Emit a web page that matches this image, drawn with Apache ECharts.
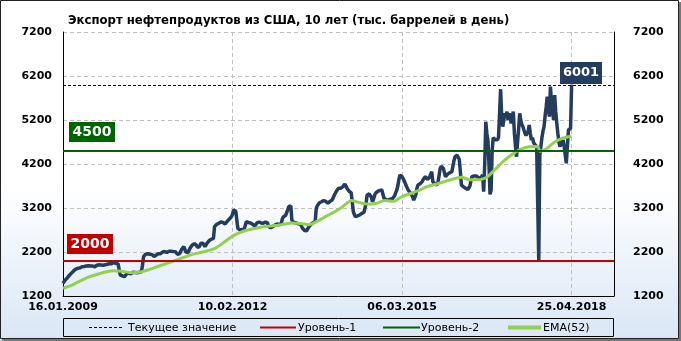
<!DOCTYPE html>
<html><head><meta charset="utf-8">
<script src="https://cdn.jsdelivr.net/npm/echarts@6/dist/echarts.min.js"></script>
<style>html,body{margin:0;padding:0;background:#fff}#c{width:681px;height:341px}</style>
</head><body><div id="c"></div>
<script>
const chartTitle = 'Экспорт нефтепродуктов из США, 10 лет (тыс. баррелей в день)';
const xTickLabels = ['16.01.2009', '10.02.2012', '06.03.2015', '25.04.2018'];
const weeksPerTick = 160;
const totalWeeks = 520;
const legendNames = ['Текущее значение', 'Уровень-1', 'Уровень-2', 'EMA(52)'];
const yMin = 1200, yMax = 7200, yStep = 1000;
const currentValue = 6001;
const level1 = 2000;
const level2 = 4500;

// weekly exports, one value per week from 16.01.2009
const exportsWeekly = [
1490,1520,1560,1590,1610,1640,1670,1700,1720,1750,
1770,1790,1810,1800,1830,1850,1840,1860,1866,1880,
1870,1890,1880,1900,1889,1870,1880,1860,1880,1870,
1866,1880,1900,1890,1910,1895,1905,1920,1900,1890,
1910,1930,1920,1927,1940,1950,1935,1943,1960,1950,
1940,1945,1930,1800,1677,1650,1660,1640,1640,1670,
1700,1690,1720,1716,1700,1730,1740,1720,1735,1750,
1730,1760,1740,1750,1752,1900,2093,2120,2150,2130,
2160,2170,2150,2130,2140,2120,2100,2109,2130,2150,
2160,2170,2160,2184,2200,2190,2210,2200,2190,2207,
2220,2207,2215,2200,2210,2220,2207,2180,2150,2132,
2160,2200,2260,2300,2320,2290,2200,2155,2190,2240,
2290,2330,2360,2380,2390,2395,2350,2300,2284,2330,
2400,2434,2400,2360,2320,2350,2400,2440,2460,2473,
2490,2500,2511,2775,2800,2830,2840,2852,2870,2880,
2890,2870,2850,2836,2870,2900,2927,2950,2980,3003,
3060,3155,3140,3130,3116,2738,2710,2700,2720,2710,
2730,2720,2738,2890,2880,2870,2880,2860,2852,2830,
2810,2791,2820,2860,2890,2880,2870,2860,2850,2852,
2870,2880,2890,2860,2780,2738,2750,2770,2780,2791,
2810,2820,2836,2830,2820,2814,2850,2950,3003,3020,
3030,3041,3150,3230,3268,3250,2927,2900,2870,2852,
2860,2850,2840,2845,2836,2790,2740,2700,2690,2680,
2685,2720,2770,2814,2830,2850,2870,2880,2890,3193,
3250,3290,3320,3330,3343,3360,3370,3382,3350,3320,
3307,3330,3350,3370,3382,3430,3490,3534,3580,3620,
3648,3660,3650,3648,3680,3720,3746,3700,3650,3609,
3580,3560,3545,3534,3116,3050,3003,3010,3020,3030,
3041,3060,3080,3090,3100,3116,3300,3496,3510,3520,
3534,3450,3343,3400,3480,3540,3570,3580,3590,3600,
3610,3609,3500,3420,3400,3390,3380,3382,3390,3400,
3410,3415,3420,3480,3550,3609,3700,3850,3950,3930,
3912,3880,3820,3761,3700,3650,3600,3560,3540,3534,
3450,3380,3343,3500,3650,3723,3740,3750,3761,3800,
3850,3890,3912,3880,3850,3837,3900,3970,4026,3798,
3770,3750,3740,3723,3800,3950,4102,4150,4178,4100,
4000,3912,3950,3970,3989,4000,4010,4026,4150,4280,
4366,4390,4400,4405,4300,4026,3723,3700,3680,3660,
3648,3630,3620,3609,3700,3820,3912,3920,3930,3925,
3928,3910,3890,3880,3876,3920,3950,3570,4200,5162,
4900,4746,4200,3510,3600,4500,4800,4780,4750,4780,
4750,4800,4821,5900,5300,5048,5200,5350,5300,5390,
5200,5352,5250,5124,5300,5390,4900,4600,4366,4700,
5000,5352,5200,5100,5050,4973,4900,4850,4821,4950,
5086,4900,4746,4800,4700,4650,4670,4600,4620,2018,
4405,4600,4800,4950,5048,5300,5500,5730,5500,5276,
5958,5600,5400,5200,5768,5400,5124,4900,4700,4594,
4650,4700,4746,4600,4400,4216,4600,4973,4990,5010,
6001
];

// EMA(52) at these week indices
const emaWeeks = [0,8,16,24,32,40,48,56,64,72,80,88,96,104,112,120,128,136,144,152,160,168,176,184,192,200,208,216,224,232,240,248,256,264,272,280,288,296,304,312,320,328,336,344,352,360,368,376,384,392,400,408,416,424,432,440,448,450,456,464,472,480];
const emaValues = [1375,1440,1540,1630,1690,1745,1775,1760,1730,1740,1790,1860,1925,1990,2060,2130,2180,2225,2290,2420,2560,2650,2710,2750,2780,2800,2830,2860,2850,2820,2900,3010,3110,3230,3370,3320,3290,3310,3370,3350,3460,3530,3600,3690,3740,3800,3860,3900,3840,3840,3900,4080,4270,4420,4540,4590,4600,4490,4540,4700,4790,4830];

const NAVY = '#243c5e';
const FONT = 'DejaVu Sans';
const chart = echarts.init(document.getElementById('c'), null, {renderer: 'canvas'});

const gridLine = {show: true, lineStyle: {color: '#bfbfbf', type: [4, 3], width: 1}};
const blackAxis = {show: true, lineStyle: {color: '#000', width: 1}};
const axisFont = {fontFamily: FONT, fontWeight: 'bold', fontSize: 11, color: '#000'};

chart.setOption({
  animation: false,
  backgroundColor: new echarts.graphic.LinearGradient(0, 0, 0, 1, [
    {offset: 0, color: '#ffffff'}, {offset: 0.55, color: '#ffffff'}, {offset: 1, color: '#d9e6f6'}
  ]),
  title: {text: chartTitle, left: 63, top: 10, textStyle: {fontFamily: FONT, fontWeight: 'bold', fontSize: 11.7, color: '#000'}},
  grid: {left: 63, right: 67, top: 32, bottom: 45},
  xAxis: {
    type: 'value', min: 0, max: totalWeeks, interval: weeksPerTick,
    axisLine: blackAxis, axisTick: {show: false}, splitLine: gridLine,
    axisLabel: Object.assign({margin: 6, showMaxLabel: false, formatter: v => xTickLabels[v / weeksPerTick] || ''}, axisFont)
  },
  yAxis: [
    {type: 'value', min: yMin, max: yMax, interval: yStep, position: 'left',
     axisLine: blackAxis, axisTick: {show: false}, splitLine: gridLine,
     axisLabel: Object.assign({margin: 11, formatter: v => String(v)}, axisFont)},
    {type: 'value', min: yMin, max: yMax, interval: yStep, position: 'right',
     axisLine: blackAxis, axisTick: {show: false}, splitLine: {show: false},
     axisLabel: Object.assign({margin: 19, formatter: v => String(v)}, axisFont)}
  ],
  series: [
    {name: 'exports', type: 'line', data: exportsWeekly.map((v, i) => [i, v]), symbol: 'none',
     lineStyle: {color: NAVY, width: 3.5}, z: 3},
    {name: legendNames[3], type: 'line', data: emaWeeks.map((w, k) => [w, emaValues[k]]), symbol: 'none',
     smooth: 0.2, lineStyle: {color: '#92d050', width: 3}, z: 4},
    {name: legendNames[0], type: 'line', data: [], z: 5,
     markLine: {silent: true, symbol: 'none', label: {show: false}, lineStyle: {color: '#000', width: 1, type: [3, 2]}, data: [{yAxis: currentValue}]}},
    {name: legendNames[1], type: 'line', data: [], z: 5,
     markLine: {silent: true, symbol: 'none', label: {show: false}, lineStyle: {color: '#c00000', width: 2, type: 'solid'}, data: [{yAxis: level1}]}},
    {name: legendNames[2], type: 'line', data: [], z: 5,
     markLine: {silent: true, symbol: 'none', label: {show: false}, lineStyle: {color: '#006400', width: 2, type: 'solid'}, data: [{yAxis: level2}]}}
  ]
});

function valueBox(cx, bottom, w, h, text, color, fs) {
  return {type: 'group', z: 20, children: [
    {type: 'rect', shape: {x: Math.round(cx - w / 2), y: Math.round(bottom - h), width: w, height: h}, style: {fill: color}},
    {type: 'text', style: {x: Math.round(cx), y: Math.round(bottom - h / 2), text: text, fill: '#fff', align: 'center', verticalAlign: 'middle',
      font: 'bold ' + fs + 'px "' + FONT + '"'}}
  ]};
}
const lastIdx = exportsWeekly.length - 1;
const pLast = chart.convertToPixel({xAxisIndex: 0, yAxisIndex: 0}, [lastIdx, exportsWeekly[lastIdx]]);
const p0 = chart.convertToPixel({xAxisIndex: 0, yAxisIndex: 0}, [0, level1]);
const p2 = chart.convertToPixel({xAxisIndex: 0, yAxisIndex: 0}, [0, level2]);

const ly = 327;
function legLine(x1, x2, color, w, dash) {
  return {type: 'line', shape: {x1: x1, y1: ly + 0.5, x2: x2, y2: ly + 0.5}, style: {stroke: color, lineWidth: w, lineDash: dash || null}};
}
function legText(x, t) {
  return {type: 'text', style: {x: x, y: ly + 1, text: t, fill: '#000', verticalAlign: 'middle', font: '11px "' + FONT + '"'}};
}

chart.setOption({
  graphic: [
    {type: 'rect', shape: {x: 0.5, y: 0.5, width: 678, height: 338}, style: {fill: 'none', stroke: '#222', lineWidth: 1}, z: 30},
    {type: 'line', shape: {x1: 680, y1: 2, x2: 680, y2: 341}, style: {stroke: '#777', lineWidth: 2}, z: 30},
    {type: 'line', shape: {x1: 2, y1: 340, x2: 681, y2: 340}, style: {stroke: '#777', lineWidth: 2}, z: 30},
    {type: 'rect', shape: {x: 63.5, y: 318.5, width: 550, height: 18}, style: {fill: 'none', stroke: '#000', lineWidth: 1}, z: 10},
    legLine(89, 124, '#000', 1, [3, 2]), legText(128, legendNames[0]),
    legLine(260, 296, '#c00000', 2), legText(298, legendNames[1]),
    legLine(383, 420, '#006400', 2), legText(421, legendNames[2]),
    legLine(508, 541, '#92d050', 4), legText(543, legendNames[3]),
    valueBox(p2[0] + 29, p2[1] - 9, 46, 20, String(level2), '#006400', 14),
    valueBox(p0[0] + 27, p0[1] - 7, 46, 20, String(level1), '#c00000', 14),
    valueBox(pLast[0] + 9, pLast[1] - 1, 42, 22, String(currentValue), NAVY, 13)
  ]
});
</script>
</body></html>
